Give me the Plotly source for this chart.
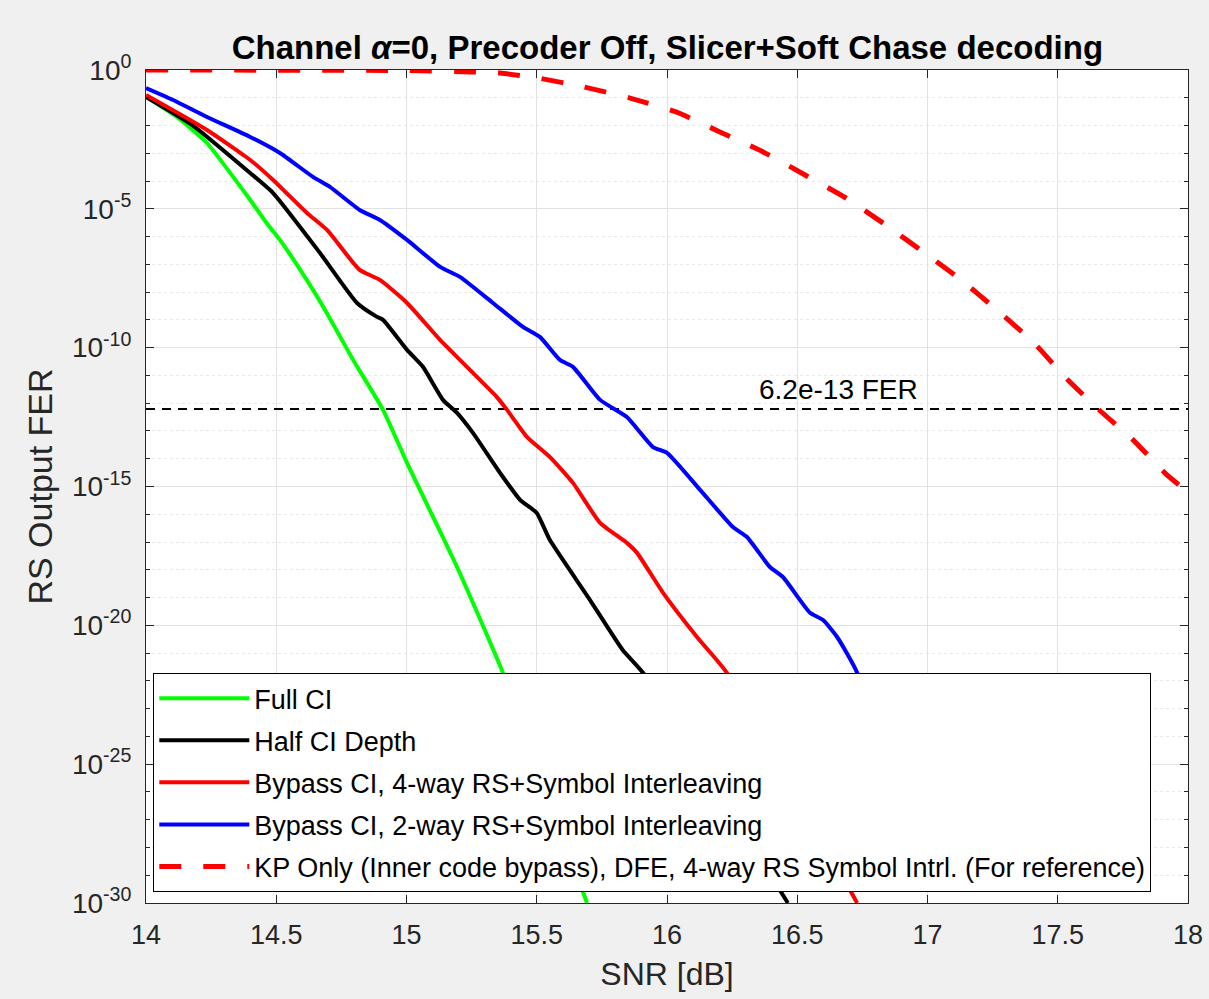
import numpy as np
import plotly.graph_objects as go

# ---------------- data ----------------
full_ci_snr = [14.0, 14.12, 14.233, 14.40, 14.463, 14.514, 14.617, 14.694, 14.795, 14.91,
               15.002, 15.194, 15.37, 15.693]
full_ci_log10 = [-0.97, -1.7, -2.62, -4.68, -5.51, -6.12, -7.56, -8.75, -10.44, -12.24,
                 -14.15, -17.90, -21.71, -30.0]

half_ci_snr = [14.0, 14.18, 14.40, 14.488, 14.668, 14.81, 14.887, 14.91, 15.002, 15.063,
               15.14, 15.194, 15.255, 15.359, 15.436, 15.50, 15.55, 15.704, 15.83, 15.908,
               16.464]
half_ci_log10 = [-0.97, -2.0, -3.71, -4.43, -6.59, -8.39, -8.89, -9.0, -10.08, -10.69,
                 -11.88, -12.35, -13.07, -14.51, -15.48, -15.95, -16.92, -19.08, -20.89, -21.71,
                 -30.0]

bypass4_snr = [14.0, 14.234, 14.40, 14.488, 14.618, 14.695, 14.82, 14.898, 15.002, 15.129,
               15.205, 15.255, 15.347, 15.386, 15.463, 15.551, 15.639, 15.743, 15.846, 15.885,
               15.985, 16.115, 16.23, 16.73]
bypass4_log10 = [-0.90, -2.16, -3.24, -3.96, -5.15, -5.76, -7.20, -7.56, -8.39, -9.72,
                 -10.44, -10.91, -11.78, -12.24, -13.22, -13.94, -14.87, -16.31, -17.03, -17.39,
                 -18.83, -20.42, -21.71, -30.0]

bypass2_snr = [14.0, 14.104, 14.234, 14.40, 14.514, 14.641, 14.706, 14.82, 14.898, 15.002,
               15.129, 15.205, 15.332, 15.447, 15.512, 15.589, 15.639, 15.743, 15.846, 15.946,
               16.0, 16.127, 16.253, 16.307, 16.395, 16.445, 16.549, 16.599, 16.653, 16.73,
               16.80]
bypass2_log10 = [-0.65, -1.08, -1.69, -2.41, -2.99, -3.85, -4.21, -5.04, -5.40, -6.12,
                 -7.09, -7.45, -8.39, -9.25, -9.61, -10.44, -10.69, -11.88, -12.50, -13.58,
                 -13.79, -15.12, -16.46, -16.82, -17.90, -18.26, -19.55, -19.81, -20.42, -21.71,
                 -24.5]

kp_snr = [14.0, 15.0, 15.244, 15.36, 15.505, 15.681, 15.858, 16.035, 16.203, 16.369,
          16.53, 16.687, 16.84, 16.983, 17.129, 17.271, 17.405, 17.528, 17.655, 17.789,
          17.919, 18.0]
kp_log10 = [0.0, -0.02, -0.07, -0.11, -0.29, -0.61, -1.01, -1.51, -2.23, -2.95,
            -3.78, -4.61, -5.58, -6.55, -7.56, -8.68, -9.79, -11.06, -12.21, -13.32,
            -14.58, -15.2]

FER_TARGET = 6.2e-13
target_snr = [14.0, 18.0]

x_ticks = [14, 14.5, 15, 15.5, 16, 16.5, 17, 17.5, 18]
x_ticklabels = ["14", "14.5", "15", "15.5", "16", "16.5", "17", "17.5", "18"]
y_ticks = [1e0, 1e-5, 1e-10, 1e-15, 1e-20, 1e-25, 1e-30]
y_ticklabels = ["10<sup>0</sup>", "10<sup>-5</sup>", "10<sup>-10</sup>", "10<sup>-15</sup>",
                "10<sup>-20</sup>", "10<sup>-25</sup>", "10<sup>-30</sup>"]
y_minor = [10.0 ** (-k) for k in range(1, 30) if k % 5 != 0]

series = [
    ("Full CI", full_ci_snr, full_ci_log10, "#00ff00", "solid", 4),
    ("Half CI Depth", half_ci_snr, half_ci_log10, "#000000", "solid", 4),
    ("Bypass CI, 4-way RS+Symbol Interleaving", bypass4_snr, bypass4_log10, "#ff0000", "solid", 4),
    ("Bypass CI, 2-way RS+Symbol Interleaving", bypass2_snr, bypass2_log10, "#0000ff", "solid", 4),
    ("KP Only (Inner code bypass), DFE, 4-way RS Symbol Intrl. (For reference)",
     kp_snr, kp_log10, "#ff0000", "22px,22px", 5),
]

FONT = "Liberation Sans, Arial, Helvetica, sans-serif"
AX = "#262626"

fig = go.Figure()

fig.add_trace(go.Scatter(
    x=target_snr, y=[FER_TARGET, FER_TARGET], mode="lines",
    line=dict(color="black", width=2, dash="9px,7px"),
    showlegend=False, hoverinfo="skip"))

for i, (name, xs, ly, color, dash, w) in enumerate(series):
    fig.add_trace(go.Scatter(
        x=xs, y=10.0 ** np.array(ly), mode="lines", name=name,
        legendgroup=f"g{i}",
        line=dict(color=color, width=w, dash=dash, shape="spline", smoothing=0.5),
    ))

fig.add_annotation(
    x=16.66, y=np.log10(FER_TARGET), xref="x", yref="y",
    text="6.2e-13 FER", showarrow=False, yanchor="bottom", yshift=2,
    font=dict(family=FONT, size=28, color="black"))

fig.update_layout(
    width=1209, height=999,
    paper_bgcolor="#f0f0f0", plot_bgcolor="white",
    margin=dict(l=146, r=21, t=70, b=96, autoexpand=False),
    font=dict(family=FONT, size=27, color=AX),
    title=dict(
        text="<b>Channel <i>α</i>=0, Precoder Off, Slicer+Soft Chase decoding</b>",
        x=0.552, xanchor="center", y=0.953, yanchor="middle", yref="container",
        font=dict(family=FONT, size=33, color="black")),
    legend=dict(
        x=0.007, y=0.276, xanchor="left", yanchor="top",
        bgcolor="white", bordercolor="black", borderwidth=1,
        font=dict(family=FONT, size=27, color="black"),
        tracegroupgap=4, traceorder="grouped", itemwidth=90),
    showlegend=True,
)

fig.update_xaxes(
    range=[14, 18], tickvals=x_ticks, ticktext=x_ticklabels,
    ticks="inside", ticklen=8, tickcolor=AX, ticklabelstandoff=8,
    showline=True, linecolor=AX, linewidth=1, mirror="ticks",
    showgrid=True, gridcolor="#e2e2e2", gridwidth=1, zeroline=False,
    tickfont=dict(size=27, color=AX),
    title=dict(text="SNR [dB]", font=dict(size=32, color=AX), standoff=13),
)
fig.update_yaxes(
    type="log", range=[-30, 0], tickvals=y_ticks, ticktext=y_ticklabels,
    ticks="inside", ticklen=8, tickcolor=AX, ticklabelstandoff=8,
    showline=True, linecolor=AX, linewidth=1, mirror="ticks",
    showgrid=True, gridcolor="#e2e2e2", gridwidth=1, zeroline=False,
    tickfont=dict(size=28, color=AX),
    minor=dict(tickvals=y_minor, ticks="inside", ticklen=4, tickcolor=AX,
               showgrid=True, gridcolor="#e8e8e8", griddash="dot"),
    title=dict(text="RS Output FER", font=dict(size=34, color=AX), standoff=9),
)

fig.write_html("out.html", config={"displayModeBar": False},
               post_script="document.body.style.margin='0px';")
